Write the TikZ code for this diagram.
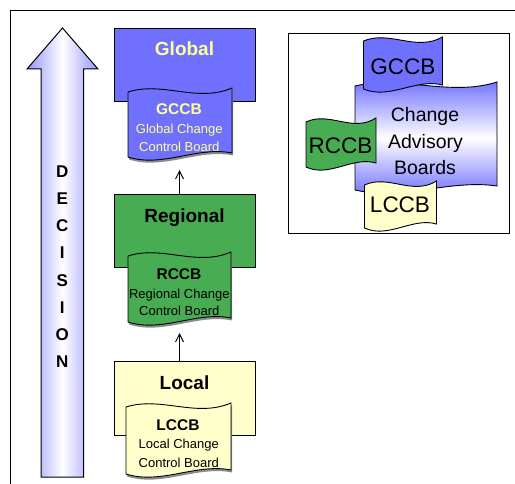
\documentclass[tikz,border=0pt]{standalone}
\usepackage{fontspec}
\setmainfont{Liberation Sans}
\usetikzlibrary{arrows.meta}
\definecolor{globalc}{RGB}{112,112,255}
\definecolor{greenc}{RGB}{72,172,82}
\definecolor{localc}{RGB}{255,255,204}
\definecolor{ytext}{RGB}{255,255,153}
\definecolor{arrowc}{RGB}{150,150,255}
\definecolor{cabc}{RGB}{100,100,255}
\definecolor{shadowc}{RGB}{140,140,140}
\newcommand\wavepath[4]{(#1,#2) .. controls ({#1+(#3-#1)/3},{#2-11}) and ({#1+2*(#3-#1)/3},{#2+11}) .. (#3,{#2-4}) -- (#3,{#4-4}) .. controls ({#1+2*(#3-#1)/3},{#4-11}) and ({#1+(#3-#1)/3},{#4+11}) .. (#1,#4) -- cycle}
\newcommand\wavedoc[5]{%
  \fill[shadowc,shift={(1,2.5)}] \wavepath{#2}{#3}{#4}{#5};
  \draw[docline,#1] \wavepath{#2}{#3}{#4}{#5};}
\newcommand\wavedocns[5]{%
  \draw[docline,#1] \wavepath{#2}{#3}{#4}{#5};}
\tikzset{
  box/.style={draw=black,line width=1pt,rectangle,inner sep=0pt},
  docline/.style={draw=black,line width=0.9pt},
  ttl/.style={anchor=base,inner sep=0pt,font=\fontsize{19}{22}\selectfont\bfseries},
  dtitle/.style={anchor=base,inner sep=0pt,font=\fontsize{15.5}{18}\selectfont\bfseries},
  dline/.style={anchor=base,inner sep=0pt,font=\fontsize{13}{15}\selectfont},
  dec/.style={anchor=base,inner sep=0pt,font=\fontsize{17}{20}\selectfont\bfseries},
  big/.style={anchor=base,inner sep=0pt,font=\fontsize{22.5}{26}\selectfont},
  cab/.style={anchor=base,inner sep=0pt,font=\fontsize{19.5}{23}\selectfont},
  arr/.style={line width=0.9pt,-{Straight Barb[length=8pt,width=8pt]}}
}
\begin{document}
\begin{tikzpicture}[x=1pt,y=-1pt]
\useasboundingbox (0,0) rectangle (515,484);
% frame
\draw[line width=0.9pt] (10.5,500) -- (10.5,10.5) -- (525,10.5);
% decision arrow
\shadedraw[draw=black,line width=1pt,left color=arrowc,right color=arrowc,middle color=white]
  (41,477) -- (41,69) -- (27,69) -- (62.5,28) -- (98,69) -- (83.5,69) -- (83.5,477) -- cycle;
\foreach \L [count=\i] in {D,E,C,I,S,I,O,N}
  \node[dec] (dec\i) at (62.3,{177.3+(\i-1)*27.2}) {\L};
% Global
\node[box,fill=globalc,minimum width=141,minimum height=73] (global) at (184.5,65.5) {};
\node[ttl,text=ytext] (globalt) at (184.5,56) {Global};
\wavedoc{fill=globalc}{128}{92}{232}{157}
\node[dtitle,text=ytext] (gccb) at (179,114.3) {GCCB};
\node[dline,text=ytext] (gccb1) at (179.3,134) {Global Change};
\node[dline,text=ytext] (gccb2) at (179.3,151.7) {Control Board};
% Regional
\node[box,fill=greenc,minimum width=141,minimum height=73] (regional) at (184.5,231.5) {};
\node[ttl] (regionalt) at (184.5,223) {Regional};
\wavedoc{fill=greenc}{128}{256}{231}{322}
\node[dtitle] (rccb) at (179,279.3) {RCCB};
\node[dline] (rccb1) at (179.3,298.3) {Regional Change};
\node[dline] (rccb2) at (179.3,316) {Control Board};
% Local
\node[box,fill=localc,minimum width=141,minimum height=73] (local) at (184.5,398.5) {};
\node[ttl] (localt) at (184.5,389) {Local};
\wavedoc{fill=localc}{126}{407}{231}{474}
\node[dtitle] (lccb) at (178,430.7) {LCCB};
\node[dline] (lccb1) at (178.8,449) {Local Change};
\node[dline] (lccb2) at (178.8,467) {Control Board};
% connectors
\coordinate (gtip) at (179.5,170);
\coordinate (rtip) at (179.5,333);
\draw[arr] (regional.north -| gtip) -- (gtip);
\draw[arr] (local.north -| rtip) -- (rtip);
% right box
\node[box,minimum width=221,minimum height=200] (cabframe) at (398.8,133.3) {};
\shadedraw[docline,top color=cabc,bottom color=cabc,middle color=white] \wavepath{355}{86}{497}{190};
\node[cab] (cab1) at (425,121.7) {Change};
\node[cab] (cab2) at (425.5,148.3) {Advisory};
\node[cab] (cab3) at (425,175) {Boards};
\wavedocns{fill=globalc}{363.5}{41}{442.5}{89}
\node[big] (gccbr) at (402.8,75) {GCCB};
\wavedocns{fill=greenc}{306}{122}{376}{167}
\node[big] (rccbr) at (340.5,153.3) {RCCB};
\wavedocns{fill=localc}{364.5}{185}{436.5}{228}
\node[big] (lccbr) at (400,212.3) {LCCB};
\end{tikzpicture}
\end{document}
